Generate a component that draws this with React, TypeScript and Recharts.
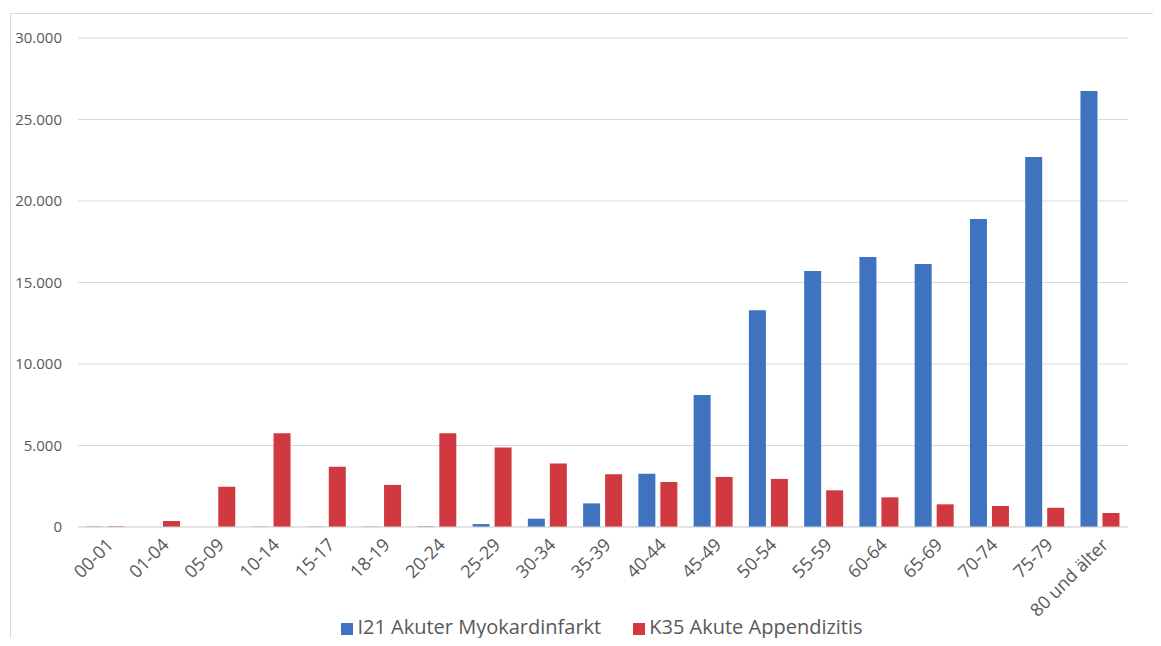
import { Bar, BarChart, CartesianGrid, Legend, XAxis, YAxis } from "recharts";

const ageGroups = [
  "00-01", "01-04", "05-09", "10-14", "15-17", "18-19", "20-24", "25-29", "30-34", "35-39",
  "40-44", "45-49", "50-54", "55-59", "60-64", "65-69", "70-74", "75-79", "80 und älter",
];
const myokardinfarkt = [
  30, 0, 0, 20, 20, 20, 40, 180, 510, 1450, 3270, 8100, 13300, 15700, 16560, 16130, 18900, 22700, 26750,
];
const appendizitis = [
  40, 370, 2470, 5750, 3700, 2580, 5750, 4870, 3900, 3230, 2760, 3070, 2950, 2250, 1820, 1390, 1290, 1180, 860,
];
const yTicks = [0, 5000, 10000, 15000, 20000, 25000, 30000];

const data = ageGroups.map((g, i) => ({
  group: g,
  i21: myokardinfarkt[i],
  k35: appendizitis[i],
}));

const font = "'Open Sans', sans-serif";
const textColor = "#595959";

const fmt = (v: number) => (v === 0 ? "0" : v.toLocaleString("de-DE"));

export default function App() {
  return (
    <div style={{ position: "relative", width: 1161, height: 646, margin: -8, background: "#fff", fontFamily: font }}>
      <div
        style={{
          position: "absolute",
          left: 10,
          top: 13,
          right: 0,
          bottom: 0,
          borderTop: "1px solid #d9d9d9",
          borderLeft: "1px solid #d9d9d9",
        }}
      />
      <BarChart
        width={1161}
        height={646}
        data={data}
        margin={{ top: 38, right: 33, left: 0, bottom: 0 }}
        barCategoryGap="14%"
        barGap={5}
        style={{ position: "absolute", left: 0, top: 0 }}
      >
        <CartesianGrid vertical={false} stroke="#d9d9d9" />
        <YAxis
          width={78}
          domain={[0, 30000]}
          ticks={yTicks}
          tickFormatter={fmt}
          axisLine={false}
          tickLine={false}
          tickSize={0}
          tickMargin={16}
          tick={{ fill: textColor, fontSize: 15, fontFamily: font }}
        />
        <XAxis
          dataKey="group"
          interval={0}
          height={86}
          angle={-45}
          textAnchor="end"
          axisLine={{ stroke: "#d9d9d9" }}
          tickLine={false}
          tickSize={0}
          tickMargin={10}
          tick={{ fill: textColor, fontSize: 18, fontFamily: font }}
        />
        <Legend
          verticalAlign="bottom"
          iconType="square"
          iconSize={12}
          wrapperStyle={{ height: 33, left: 54, width: 1128, fontSize: 20, fontFamily: font }}
          formatter={(v) => <span style={{ color: textColor, marginRight: 22 }}>{v}</span>}
        />
        <Bar dataKey="i21" name="I21 Akuter Myokardinfarkt" fill="#3f73c0" isAnimationActive={false} />
        <Bar dataKey="k35" name="K35 Akute Appendizitis" fill="#d0393f" isAnimationActive={false} />
      </BarChart>
    </div>
  );
}
